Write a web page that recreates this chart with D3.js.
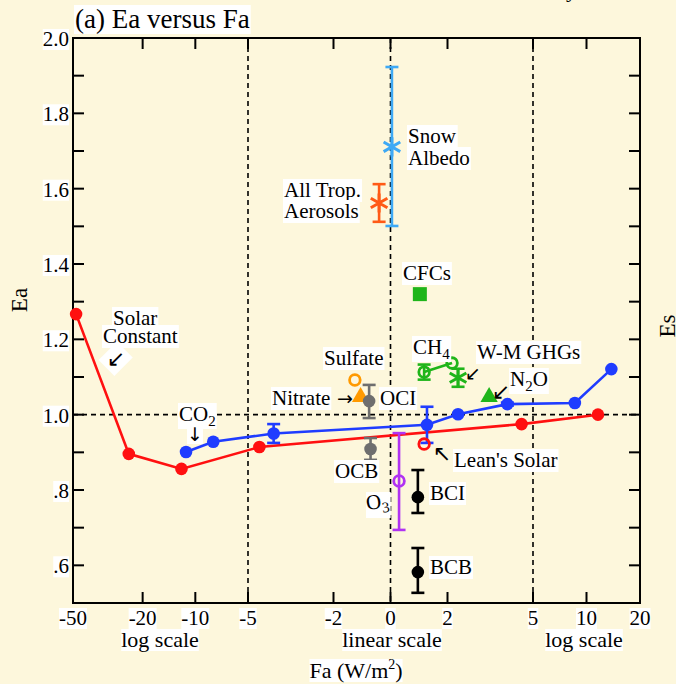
<!DOCTYPE html>
<html>
<head>
<meta charset="utf-8">
<script src="https://cdn.jsdelivr.net/npm/d3@7"></script>
<style>
  html, body { margin: 0; padding: 0; background: #fdf7dc; }
  svg { display: block; }
  text { font-family: "Liberation Serif", "Times New Roman", serif; fill: #000; }
  text.arrow { font-family: "DejaVu Sans", sans-serif; }
</style>
</head>
<body>
<div id="chart"></div>
<script>
// ---- data ----
// solar constant efficacy curve (red)
var solarFa = [-48, -24, -12, -4.6, 4.6, 11.6];
var solarEa = [1.267, 0.896, 0.856, 0.914, 0.975, 1.0];

// CO2 efficacy curve (blue), with error half-widths
var co2Fa  = [-11.3, -7.9, -4.1, 1.28, 2.37, 4.1, 8.6, 13.8];
var co2Ea  = [0.901, 0.928, 0.950, 0.973, 1.001, 1.028, 1.031, 1.121];
var co2Err = [0, 0, 0.025, 0.048, 0, 0.004, 0, 0];

// CH4 pair (green line)
var ch4Fa  = [1.18, 2.16];
var ch4Ea  = [1.113, 1.137];
var ch4Err = [0.02, 0];

// single forcings: name, Fa, Ea, lower, upper
var forcingNames = ["Snow Albedo", "All Trop. Aerosols", "CFCs", "Sulfate", "Nitrate", "OCI", "OCB",
                    "Lean's Solar", "O3", "BCI", "BCB", "W-M GHGs", "N2O"];
var forcingFa    = [0.05, -0.40, 1.03, -1.25, -1.05, -0.75, -0.70, 1.18, 0.30, 0.96, 0.96, 2.37, 3.46];
var forcingEa    = [1.711, 1.562, 1.320, 1.092, 1.044, 1.036, 0.909, 0.922, 0.824, 0.781, 0.582, 1.098, 1.044];
var forcingLo    = [1.501, 1.512, null, null, null, 0.991, 0.880, null, 0.694, 0.739, 0.527, 1.074, null];
var forcingHi    = [1.923, 1.612, null, null, null, 1.079, 0.938, null, 0.951, 0.853, 0.646, 1.122, null];

// axis ticks
var xTicks = [-50, -20, -10, -5, -2, 0, 2, 5, 10, 20];
var yTicks = d3.range(5, 21).map(function(d) { return d / 10; });
var yLabelTicks = [0.6, 0.8, 1.0, 1.2, 1.4, 1.6, 1.8, 2.0];

// ---- styles ----
var BG = "#fdf7dc";
var RED = "#ff1010", BLUE = "#1f3cff", GREEN = "#1fb51a", ORANGE = "#ff9a00",
    GRAY = "#6e6e6e", PURPLE = "#b033f2", SKY = "#3ea9f5", TROP = "#ff5a16";

var forcingStyle = {
	"Snow Albedo":        {color: SKY,    shape: "asterisk"},
	"All Trop. Aerosols": {color: TROP,   shape: "asterisk"},
	"CFCs":               {color: GREEN,  shape: "square"},
	"Sulfate":            {color: ORANGE, shape: "ring"},
	"Nitrate":            {color: ORANGE, shape: "triangle"},
	"OCI":                {color: GRAY,   shape: "dot"},
	"OCB":                {color: GRAY,   shape: "dot"},
	"Lean's Solar":       {color: RED,    shape: "ring"},
	"O3":                 {color: PURPLE, shape: "ring"},
	"BCI":                {color: "#000", shape: "dot"},
	"BCB":                {color: "#000", shape: "dot"},
	"W-M GHGs":           {color: GREEN,  shape: "asterisk"},
	"N2O":                {color: GREEN,  shape: "triangle"}
};

var W = 676, H = 684;
var plot = {left: 73, right: 640, top: 38, bottom: 603};

var svg = d3.select("#chart").append("svg")
	.attr("width", W)
	.attr("height", H);

svg.append("rect").attr("width", W).attr("height", H).attr("fill", BG);

// ---- scales: log | linear | log ----
var xLeft  = d3.scaleLog().domain([-50, -5]).range([plot.left, 248]);
var xMid   = d3.scaleLinear().domain([-5, 5]).range([248, 533]);
var xRight = d3.scaleLog().domain([5, 20]).range([533, plot.right]);

function x(v)
{
	if (v <= -5) return xLeft(v);
	if (v >= 5) return xRight(v);
	return xMid(v);
}

var y = d3.scaleLinear().domain([0.5, 2.0]).range([plot.bottom, plot.top]);

// puts a white box behind a text element
function whiteBox(sel, pad, rot)
{
	sel.each(function() {
		var node = this;
		var b = node.getBBox();
		var p = pad == null ? 1 : pad;
		var r = d3.select(node.parentNode).insert("rect", function() { return node; })
			.attr("x", b.x - p).attr("y", b.y - p + 2)
			.attr("width", b.width + 2 * p).attr("height", b.height + 2 * p - 3)
			.attr("fill", "#fff");
		if (rot) {
			r.attr("transform", "rotate(" + rot + "," + (b.x + b.width / 2) + "," + (b.y + b.height / 2) + ")");
		}
	});
	return sel;
}

function label(g, txt, px, py, opts)
{
	opts = opts || {};
	var t = g.append("text")
		.attr("x", px).attr("y", py)
		.attr("font-size", opts.size || 21)
		.attr("text-anchor", opts.anchor || "start");
	if (opts.cls) t.attr("class", opts.cls);
	if (opts.sub) {
		t.append("tspan").text(txt);
		t.append("tspan").attr("font-size", 15).attr("dy", 5).text(opts.sub);
		if (opts.after) t.append("tspan").attr("dy", -5).text(opts.after);
	} else {
		t.text(txt);
	}
	if (opts.rotate) t.attr("transform", "rotate(" + opts.rotate + "," + px + "," + py + ")");
	if (!opts.noBox) whiteBox(t, opts.pad, opts.boxRot);
	return t;
}

// ---- reference lines ----
var refs = svg.append("g")
	.attr("stroke", "#000").attr("stroke-width", 1.6).attr("stroke-dasharray", "5,4");
[-5, 0, 5].forEach(function(v) {
	refs.append("line").attr("x1", x(v)).attr("x2", x(v)).attr("y1", plot.top).attr("y2", plot.bottom);
});
refs.append("line").attr("x1", plot.left).attr("x2", plot.right).attr("y1", y(1)).attr("y2", y(1));

// ---- frame and ticks ----
var axes = svg.append("g").attr("stroke", "#000");
axes.append("rect")
	.attr("x", plot.left).attr("y", plot.top)
	.attr("width", plot.right - plot.left).attr("height", plot.bottom - plot.top)
	.attr("fill", "none").attr("stroke-width", 2);

xTicks.forEach(function(v) {
	axes.append("line").attr("x1", x(v)).attr("x2", x(v)).attr("y1", plot.bottom).attr("y2", plot.bottom - 11).attr("stroke-width", 2);
	axes.append("line").attr("x1", x(v)).attr("x2", x(v)).attr("y1", plot.top).attr("y2", plot.top + 11).attr("stroke-width", 2);
});
yTicks.forEach(function(v) {
	axes.append("line").attr("x1", plot.left).attr("x2", plot.left + 11).attr("y1", y(v)).attr("y2", y(v)).attr("stroke-width", 2);
	axes.append("line").attr("x1", plot.right).attr("x2", plot.right - 11).attr("y1", y(v)).attr("y2", y(v)).attr("stroke-width", 2);
});

var texts = svg.append("g");

xTicks.forEach(function(v) {
	label(texts, String(v), x(v), 625, {anchor: "middle", size: 21, pad: 0});
});
yLabelTicks.forEach(function(v) {
	var s = v >= 1 ? v.toFixed(1) : d3.format(".1f")(v).replace(/^0/, "");
	label(texts, s, 69, y(v) + 8, {anchor: "end", size: 21, pad: 0});
});

label(texts, "log scale", 160, 647, {anchor: "middle", size: 22, pad: 0});
label(texts, "linear scale", 392, 647, {anchor: "middle", size: 22, pad: 0});
label(texts, "log scale", 584, 647, {anchor: "middle", size: 22, pad: 0});

var xt = texts.append("text").attr("x", 356).attr("y", 678).attr("text-anchor", "middle").attr("font-size", 22);
xt.append("tspan").text("Fa (W/m");
xt.append("tspan").attr("font-size", 14).attr("dy", -9).text("2");
xt.append("tspan").attr("dy", 9).text(")");
whiteBox(xt, 0);

label(texts, "Ea", 27, 300, {anchor: "middle", size: 23, rotate: -90, noBox: true});
label(texts, "Es", 675, 326, {anchor: "middle", size: 23, rotate: -90, noBox: true});
label(texts, "(a) Ea versus Fa", 75, 28, {size: 27, pad: 1});
label(texts, "y", 566, -3, {size: 22, noBox: true});

// ---- marks ----
var marks = svg.append("g");
var line = d3.line().x(function(d) { return x(d[0]); }).y(function(d) { return y(d[1]); });

function errorBar(g, fa, lo, hi, color)
{
	var cx = x(fa), w = 6.5;
	g.append("line").attr("x1", cx).attr("x2", cx).attr("y1", y(lo)).attr("y2", y(hi))
		.attr("stroke", color).attr("stroke-width", 2.6);
	[lo, hi].forEach(function(v) {
		g.append("line").attr("x1", cx - w).attr("x2", cx + w).attr("y1", y(v)).attr("y2", y(v))
			.attr("stroke", color).attr("stroke-width", 2.6);
	});
}

function marker(g, fa, ea, shape, color)
{
	var cx = x(fa), cy = y(ea);
	if (shape === "dot") {
		g.append("circle").attr("cx", cx).attr("cy", cy).attr("r", 6.3).attr("fill", color);
	} else if (shape === "ring") {
		g.append("circle").attr("cx", cx).attr("cy", cy).attr("r", 5.3)
			.attr("fill", "none").attr("stroke", color).attr("stroke-width", 2.8);
	} else if (shape === "square") {
		g.append("rect").attr("x", cx - 7).attr("y", cy - 7).attr("width", 14).attr("height", 14).attr("fill", color);
	} else if (shape === "triangle") {
		g.append("path").attr("d", d3.symbol(d3.symbolTriangle, 130)())
			.attr("transform", "translate(" + cx + "," + (cy - 1) + ")").attr("fill", color);
	} else if (shape === "asterisk") {
		g.append("path").attr("d", d3.symbol(d3.symbolAsterisk, 260)())
			.attr("transform", "translate(" + cx + "," + cy + ")")
			.attr("fill", "none").attr("stroke", color).attr("stroke-width", 3);
	}
}

// red solar curve
var solarPts = d3.zip(solarFa, solarEa);
marks.append("path").datum(solarPts).attr("d", line)
	.attr("fill", "none").attr("stroke", RED).attr("stroke-width", 2.6);
solarPts.forEach(function(p) { marker(marks, p[0], p[1], "dot", RED); });

// blue CO2 curve
var co2Pts = d3.zip(co2Fa, co2Ea);
marks.append("path").datum(co2Pts).attr("d", line)
	.attr("fill", "none").attr("stroke", BLUE).attr("stroke-width", 2.6);
co2Pts.forEach(function(p, i) {
	if (co2Err[i] > 0) errorBar(marks, p[0], p[1] - co2Err[i], p[1] + co2Err[i], BLUE);
	marker(marks, p[0], p[1], "dot", BLUE);
});

// green CH4 pair
var ch4Pts = d3.zip(ch4Fa, ch4Ea);
marks.append("path").datum(ch4Pts).attr("d", line)
	.attr("fill", "none").attr("stroke", GREEN).attr("stroke-width", 2.6);
ch4Pts.forEach(function(p, i) {
	if (ch4Err[i] > 0) errorBar(marks, p[0], p[1] - ch4Err[i], p[1] + ch4Err[i], GREEN);
	marker(marks, p[0], p[1], "ring", GREEN);
});

forcingNames.forEach(function(name, i) {
	var st = forcingStyle[name];
	if (forcingLo[i] != null) errorBar(marks, forcingFa[i], forcingLo[i], forcingHi[i], st.color);
	marker(marks, forcingFa[i], forcingEa[i], st.shape, st.color);
});

// ---- annotations ----
var notes = svg.append("g");
label(notes, "Solar", 113, 325);
label(notes, "Constant", 103, 343);
label(notes, "\u2199", 116, 366, {anchor: "middle", size: 22, pad: 2, boxRot: 45, cls: "arrow"});
label(notes, "CO", 179, 421, {sub: "2"});
label(notes, "\u2193", 195, 441, {anchor: "middle", size: 19, pad: 0, cls: "arrow"});
label(notes, "Snow", 408, 143);
label(notes, "Albedo", 408, 165);
label(notes, "All Trop.", 284, 197);
label(notes, "Aerosols", 284, 218);
label(notes, "CFCs", 403, 280);
label(notes, "Sulfate", 324, 365);
label(notes, "Nitrate", 272, 405);
label(notes, "\u2192", 345, 405, {anchor: "middle", size: 19, pad: 0, noBox: true, cls: "arrow"});
label(notes, "OCI", 380, 405);
label(notes, "OCB", 335, 478);
label(notes, "O", 367, 510, {sub: "3", rotate: -8});
label(notes, "BCI", 430, 500);
label(notes, "BCB", 430, 574);
label(notes, "CH", 413, 354, {sub: "4"});
label(notes, "W-M GHGs", 477, 359);
label(notes, "\u2199", 473, 380, {anchor: "middle", size: 19, pad: 0, noBox: true, cls: "arrow"});
label(notes, "N", 510, 386, {sub: "2", after: "O"});
label(notes, "\u2199", 501, 399, {anchor: "middle", size: 22, pad: 0, noBox: true, cls: "arrow"});
label(notes, "\u2196", 442, 461, {anchor: "middle", size: 22, pad: 0, noBox: true, cls: "arrow"});
label(notes, "Lean's Solar", 454, 467);
</script>
</body>
</html>
